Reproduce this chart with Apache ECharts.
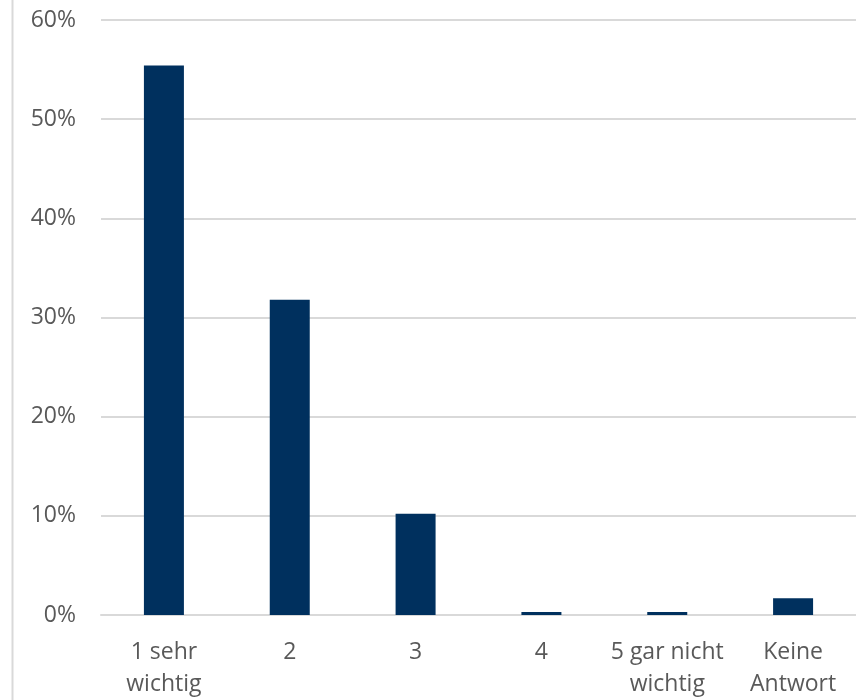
<!DOCTYPE html>
<html>
<head>
<meta charset="utf-8">
<script src="https://cdn.jsdelivr.net/npm/echarts@6/dist/echarts.min.js"></script>
<style>
  html, body { margin: 0; padding: 0; background: #fff; }
  #chart { width: 856px; height: 700px; }
</style>
</head>
<body>
<div id="chart"></div>
<script>
// Answer categories and share of respondents (percent)
const categories = ['1 sehr\nwichtig', '2', '3', '4', '5 gar nicht\nwichtig', 'Keine\nAntwort'];
const shares = [55.4, 31.8, 10.2, 0.3, 0.3, 1.7];
const yTicks = { min: 0, max: 60, interval: 10 };

const chart = echarts.init(document.getElementById('chart'));
chart.setOption({
  animation: false,
  textStyle: { fontFamily: 'Open Sans' },
  graphic: [{
    type: 'line',
    shape: { x1: 12.5, y1: 0, x2: 12.5, y2: 700 },
    style: { stroke: '#d9d9d9', lineWidth: 2 }
  }],
  grid: { left: 101, top: 20, width: 759, height: 598, containLabel: false },
  xAxis: {
    type: 'category',
    data: categories,
    axisLine: { show: true, lineStyle: { color: '#d9d9d9', width: 2 } },
    axisTick: { show: false },
    axisLabel: { color: '#595959', fontSize: 23, lineHeight: 32, margin: 21, interval: 0 }
  },
  yAxis: {
    type: 'value',
    min: yTicks.min, max: yTicks.max, interval: yTicks.interval,
    axisLine: { show: false },
    axisTick: { show: false },
    splitLine: { lineStyle: { color: '#d9d9d9', width: 2 } },
    axisLabel: { color: '#595959', fontSize: 23, margin: 25, formatter: '{value}%' }
  },
  series: [{
    type: 'bar',
    data: shares,
    barWidth: 40,
    itemStyle: { color: '#00305e' }
  }]
});
</script>
</body>
</html>
